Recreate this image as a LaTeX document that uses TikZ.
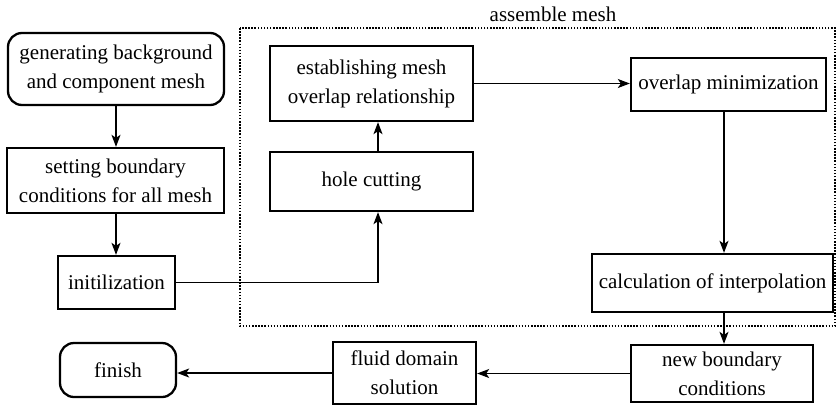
\documentclass[tikz,border=0pt]{standalone}
\usepackage{fontspec}
\setmainfont{Liberation Serif}
\usetikzlibrary{arrows.meta}
\begin{document}
\begin{tikzpicture}[x=1pt,y=-1pt,
  box/.style={draw, line width=2.3pt, align=center, inner sep=0pt,
    font=\fontsize{21}{29}\selectfont},
  rbox/.style={box, rounded corners=14pt},
  arr/.style={line width=1.3pt, -{Stealth[length=12pt,width=9pt,inset=3pt]}},
  dotbox/.style={line width=2.4pt, dash pattern=on 1.5pt off 1.6pt}]
\useasboundingbox (0,0) rectangle (838,408);
% dotted group
\draw[dotbox] (240,28) rectangle (835,326);
\node[font=\fontsize{21}{25}\selectfont] (lbl) at (553,14) {assemble mesh};
% nodes
\node[rbox, minimum width=216pt, minimum height=72pt] (b1) at (116,69) {generating background\\and component mesh};
\node[box, minimum width=217pt, minimum height=65pt] (b2) at (115.5,180.5) {setting boundary\\conditions for all mesh};
\node[box, minimum width=117pt, minimum height=53pt] (b3) at (116.5,282.5) {initilization};
\node[box, minimum width=203pt, minimum height=75pt] (e) at (371.5,83.5) {establishing mesh\\overlap relationship};
\node[box, minimum width=203pt, minimum height=59pt] (h) at (371.5,181.5) {hole cutting};
\node[box, minimum width=195pt, minimum height=53pt] (o) at (728.5,84.5) {overlap minimization};
\node[box, minimum width=241pt, minimum height=58pt] (c) at (712.5,283) {calculation of interpolation};
\node[box, minimum width=182pt, minimum height=57pt] (n) at (722,373.5) {new boundary\\conditions};
\node[box, minimum width=143pt, minimum height=62pt] (f) at (404.5,373) {fluid domain\\solution};
\node[rbox, minimum width=116pt, minimum height=54pt] (fin) at (118,370) {finish};
% helper columns
\coordinate (colR) at (724,0);
\coordinate (colH) at (378,0);
\coordinate (colL) at (116,0);
% connectors
\draw[arr] (b1.south -| colL) -- (b2.north -| colL);
\draw[arr] (b2.south -| colL) -- (b3.north -| colL);
\draw[arr] (b3.east) -| (h.south -| colH);
\draw[arr] (h.north -| colH) -- (e.south -| colH);
\draw[arr] (e.east) -- (o.west |- e.east);
\draw[arr] (o.south -| colR) -- (c.north -| colR);
\draw[arr] (c.south -| colR) -- (n.north -| colR);
\draw[arr] (n.west) -- (f.east |- n.west);
\draw[arr] (f.west) -- (fin.east |- f.west);
\end{tikzpicture}
\end{document}
